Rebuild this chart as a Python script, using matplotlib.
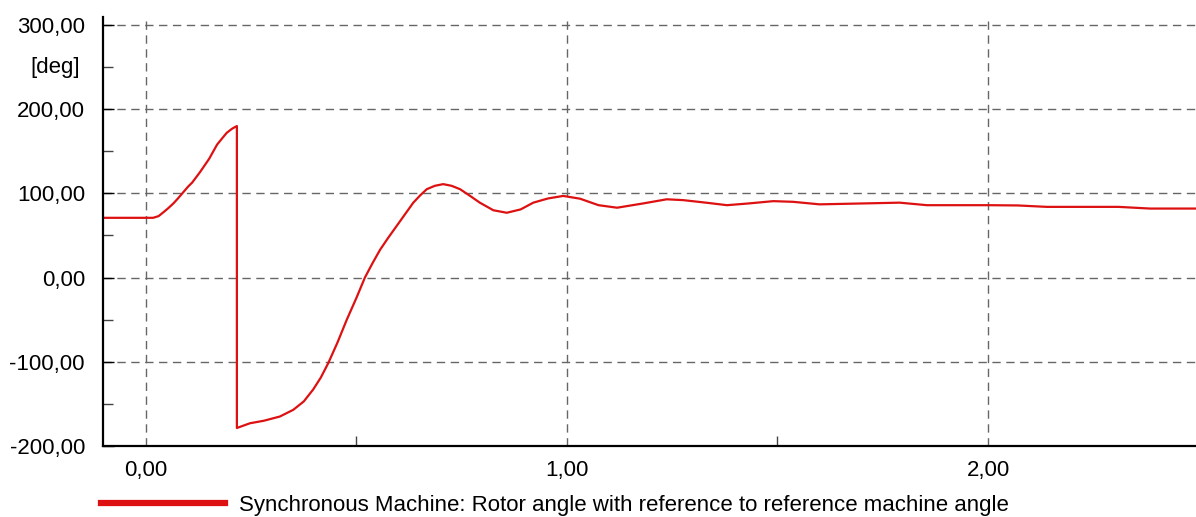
import matplotlib.pyplot as plt
from matplotlib.ticker import MultipleLocator, FuncFormatter

plt.rcParams['font.family'] = ['Liberation Sans', 'DejaVu Sans']

# time [s] and rotor angle [deg]
t = [-0.102, 0.0, 0.017, 0.03, 0.04, 0.052, 0.065, 0.076, 0.088, 0.1, 0.11, 0.128,
     0.15, 0.169, 0.182, 0.192, 0.205, 0.216,
     0.216, 0.247, 0.28, 0.318, 0.35, 0.375, 0.397, 0.415, 0.433, 0.455, 0.477, 0.5,
     0.52, 0.538, 0.556, 0.575, 0.595, 0.615, 0.635, 0.652, 0.667, 0.686, 0.706, 0.726,
     0.746, 0.77, 0.793, 0.825, 0.857, 0.89, 0.92, 0.955, 0.991, 1.031, 1.075, 1.119,
     1.18, 1.237, 1.276, 1.33, 1.38, 1.43, 1.49, 1.537, 1.6, 1.696, 1.79, 1.855, 2.0,
     2.07, 2.14, 2.31, 2.385, 2.494]
angle = [71, 71, 71, 73, 77, 82, 88, 94, 101, 108, 113, 125,
         141, 158, 166, 172, 177, 180,
         -178.6, -173, -170, -165, -157, -147, -133, -119, -101.6, -77, -50, -24,
         0, 17, 33, 47, 61, 75, 89, 98, 105, 109, 111, 109,
         105, 97, 89, 80, 77, 81, 89, 94, 97, 93.7, 86, 83,
         88, 93, 92, 89, 86, 88, 90.8, 90, 87, 88, 89, 86, 86,
         85.7, 84, 84, 82, 82]

legend_label = 'Synchronous Machine: Rotor angle with reference to reference machine angle'
unit_label = '[deg]'

fig = plt.figure(figsize=(11.96, 5.17), dpi=100)
ax = fig.add_axes([103 / 1196, 1 - 446 / 517, 1 - 103 / 1196, (446 - 17) / 517])

line, = ax.plot(t, angle, color='#dd1111', lw=1.6, label=legend_label)

ax.set_xlim(-0.102, 2.494)
ax.set_ylim(-200, 309.5)

ax.xaxis.set_major_locator(MultipleLocator(1.0))
ax.xaxis.set_minor_locator(MultipleLocator(0.5))
ax.yaxis.set_minor_locator(MultipleLocator(50))
fmt = FuncFormatter(lambda v, p: f'{v:.2f}'.replace('.', ','))
ax.xaxis.set_major_formatter(fmt)
ax.yaxis.set_major_formatter(fmt)

ax.set_yticks([-200, -100, 0, 100, 200, 300])
ax.tick_params(axis='both', which='major', direction='in', length=8, width=1,
               labelsize=16, colors='black')
ax.tick_params(axis='x', which='major', pad=10, length=0)
ax.tick_params(axis='y', which='major', pad=13)
ax.tick_params(axis='both', which='minor', direction='in', length=7, width=1, color='#444444')

ax.grid(True, which='major', linestyle=(0, (6, 4)), color='#666666', lw=1)
ax.set_axisbelow(True)

for s in ['top', 'right']:
    ax.spines[s].set_visible(False)
ax.spines['left'].set_linewidth(1.6)
ax.spines['bottom'].set_linewidth(1.6)

ax.text(-0.021, 250, unit_label, transform=ax.get_yaxis_transform(), ha='right', va='center',
        fontsize=16)

leg = fig.legend(handles=[line], loc='center left', bbox_to_anchor=(101 / 1196, 1 - 505 / 517),
                 frameon=False, fontsize=16, handlelength=5.6, handletextpad=0.6,
                 borderpad=0, borderaxespad=0)
leg.legend_handles[0].set_linewidth(4.5)

fig.savefig('out.png', dpi=100)
